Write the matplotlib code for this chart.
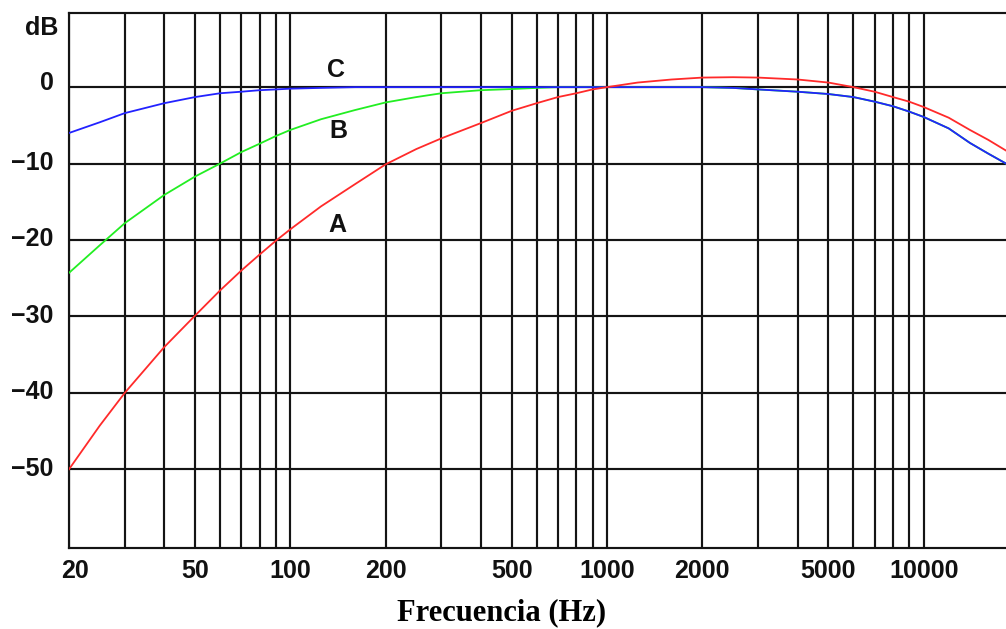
import matplotlib
matplotlib.use("Agg")
import matplotlib.pyplot as plt
from matplotlib.ticker import FixedLocator, NullFormatter
from matplotlib.transforms import ScaledTranslation

# Frequencies (Hz) and weighting curves (dB)
freq = [20, 25, 30, 40, 50, 60, 70, 80, 90, 100, 125, 160, 200, 250, 300, 400,
        500, 600, 700, 800, 900, 1000, 1250, 1600, 2000, 2500, 3000, 4000, 5000,
        6000, 7000, 8000, 9000, 10000, 12000, 14000, 16000, 18200]
curve_a = [-50.0, -44.3, -40.0, -34.0, -29.9, -26.6, -24.0, -21.9, -20.1, -18.6,
           -15.6, -12.7, -10.1, -8.1, -6.7, -4.7, -3.1, -2.1, -1.3, -0.8, -0.3,
           0.0, 0.6, 1.0, 1.25, 1.3, 1.25, 1.0, 0.6, 0.0, -0.6, -1.3, -1.9, -2.6,
           -4.0, -5.6, -6.9, -8.3]
curve_b = [-24.3, -20.7, -17.8, -14.1, -11.7, -10.0, -8.5, -7.4, -6.4, -5.6,
           -4.2, -3.0, -2.0, -1.3, -0.8, -0.4, -0.25, -0.1, 0.0, 0.0, 0.0, 0.0,
           0.0, 0.0, 0.0, -0.1, -0.3, -0.6, -0.9, -1.3, -1.9, -2.5, -3.2, -3.9,
           -5.4, -7.3, -8.7, -10.0]
curve_c = [-6.0, -4.6, -3.4, -2.1, -1.3, -0.8, -0.6, -0.4, -0.3, -0.2, -0.1,
           0.0, 0.0, 0.0, 0.0, 0.0, 0.0, 0.0, 0.0, 0.0, 0.0, 0.0, 0.0, 0.0, 0.0,
           -0.1, -0.3, -0.6, -0.9, -1.3, -1.9, -2.5, -3.2, -3.9, -5.4, -7.3,
           -8.7, -10.0]
curve_names = ["A", "B", "C"]
label_pos_freq = [141, 142, 139]
label_pos_db = [-18.1, -5.8, 2.2]

xtick_vals = [20, 50, 100, 200, 500, 1000, 2000, 5000, 10000]
xtick_labels = ["20", "50", "100", "200", "500", "1000", "2000", "5000", "10000"]
grid_freqs = [m * d for d in (10, 100, 1000) for m in range(2 if d == 10 else 1, 10)] + [10000]
ytick_vals = [0, -10, -20, -30, -40, -50]
ytick_labels = ["0", "\u221210", "\u221220", "\u221230", "\u221240", "\u221250"]

W, H = 1006, 629
fig = plt.figure(figsize=(W / 100, H / 100), dpi=100)
ax = fig.add_axes([69 / W, 1 - 548 / H, 1 - 69 / W, (548 - 13) / H])
ax.set_xscale("log")
ax.set_xlim(20, 18200)
ax.set_ylim(-60.3, 9.7)

gcol = "#141414"
glw = 1.55
for f in grid_freqs:
    ax.axvline(f, color=gcol, lw=glw, zorder=1)
for v in ytick_vals:
    ax.axhline(v, color=gcol, lw=glw, zorder=1)

ax.plot(freq, curve_b, color="#22ee22", lw=1.3, zorder=3)
ax.plot(freq, curve_c, color="#2222ff", lw=1.3, zorder=4)
ax.plot(freq, curve_a, color="#ff2a2a", lw=1.3, zorder=5)

lab_font = dict(family="Liberation Sans", fontweight="bold", fontsize=18)
for name, fx, fy in zip(curve_names, label_pos_freq, label_pos_db):
    ax.text(fx, fy, name, ha="center", va="center", color="#111111", zorder=6, **lab_font)

for s in ["left", "bottom", "top"]:
    ax.spines[s].set_linewidth(glw)
    ax.spines[s].set_color(gcol)
ax.spines["right"].set_visible(False)

ax.xaxis.set_major_locator(FixedLocator(xtick_vals))
ax.set_xticklabels(xtick_labels)
ax.xaxis.set_minor_locator(FixedLocator([]))
ax.xaxis.set_minor_formatter(NullFormatter())
ax.set_yticks(ytick_vals)
ax.set_yticklabels(ytick_labels)
ax.tick_params(axis="both", length=0)
ax.tick_params(axis="x", pad=8)
ax.tick_params(axis="y", pad=11)
for lab in ax.get_xticklabels() + ax.get_yticklabels():
    lab.set_fontfamily("Liberation Sans")
    lab.set_fontweight("bold")
    lab.set_fontsize(18)
    lab.set_color("#111111")
ylabs = ax.get_yticklabels()
for i, lab in enumerate(ylabs):
    up = 7 if i == 0 else 3
    lab.set_transform(lab.get_transform() + ScaledTranslation(0, up / 100, fig.dpi_scale_trans))
xl0 = ax.get_xticklabels()[0]
xl0.set_transform(xl0.get_transform() + ScaledTranslation(6 / 100, 0, fig.dpi_scale_trans))

fig.text(42 / W, 1 - 28 / H, "dB", ha="center", va="center", color="#111111", **lab_font)
fig.text(502 / W, 1 - 613 / H, "Frecuencia (Hz)", ha="center", va="center",
         family="Liberation Serif", fontweight="bold", fontsize=22, color="#000000")

fig.savefig("out.png", dpi=100)
